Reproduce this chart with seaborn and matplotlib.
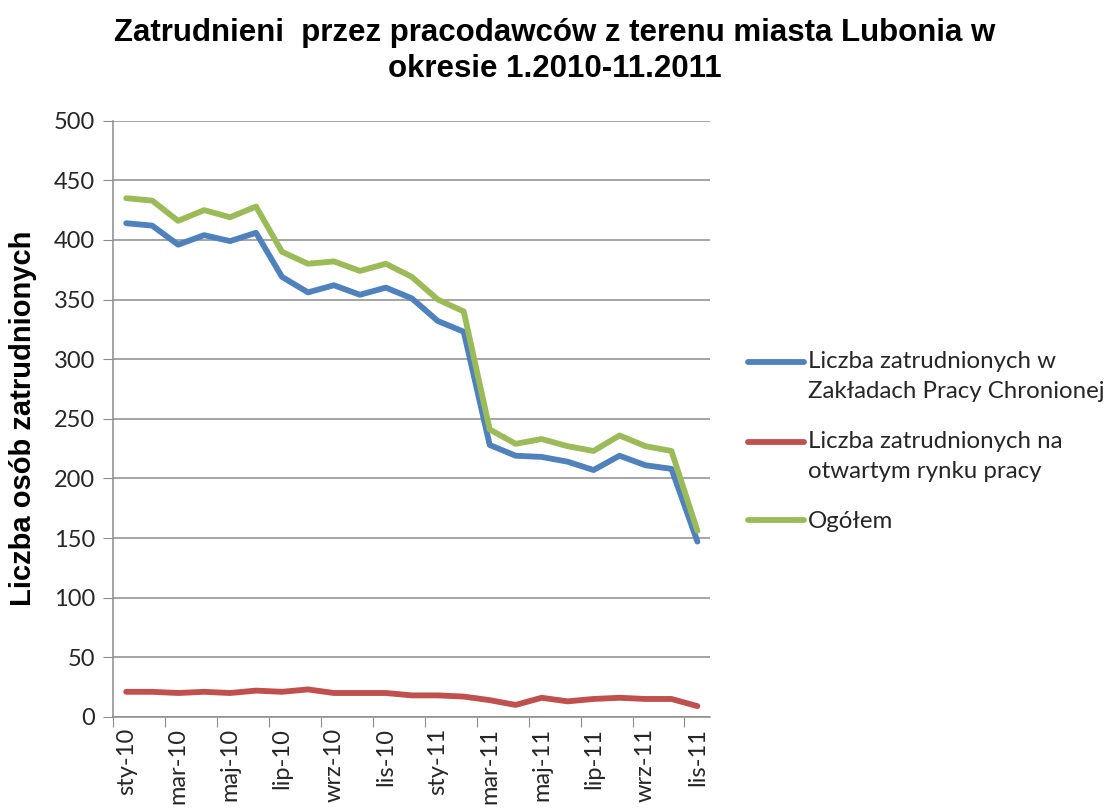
import numpy as np
import pandas as pd
import matplotlib
matplotlib.use("Agg")
import matplotlib.pyplot as plt
import seaborn as sns
from matplotlib.legend_handler import HandlerLine2D

# miesiace 1.2010 - 11.2011
months = ["sty", "lut", "mar", "kwi", "maj", "cze", "lip", "sie", "wrz", "paź", "lis", "gru"]
periods = [m + "-10" for m in months] + [m + "-11" for m in months[:11]]

chronione = [414, 412, 396, 404, 399, 406, 369, 356, 362, 354, 360, 351,
             332, 323, 228, 219, 218, 214, 207, 219, 211, 208, 147]
otwarty = [21, 21, 20, 21, 20, 22, 21, 23, 20, 20, 20, 18,
           18, 17, 14, 10, 16, 13, 15, 16, 15, 15, 9]
ogolem = [435, 433, 416, 425, 419, 428, 390, 380, 382, 374, 380, 369,
          350, 340, 241, 229, 233, 227, 223, 236, 227, 223, 156]

labels = ["Liczba zatrudnionych w\nZakładach Pracy Chronionej",
          "Liczba zatrudnionych na\notwartym rynku pracy",
          "Ogółem"]
colors = ["#4F81BD", "#C0504D", "#9BBB59"]

df = pd.DataFrame({"okres": periods, labels[0]: chronione,
                   labels[1]: otwarty, labels[2]: ogolem})
df["idx"] = np.arange(len(df))
long = df.melt(id_vars=["okres", "idx"], var_name="seria", value_name="liczba")

sns.set_style("white")
plt.rcParams["font.family"] = ["Lato", "DejaVu Sans"]

fig = plt.figure(figsize=(11.1, 8.1), dpi=100)
ax = fig.add_axes([0.102, 0.115, 0.538, 0.736])

sns.lineplot(data=long, x="idx", y="liczba", hue="seria", hue_order=labels,
             palette=colors, linewidth=4.2, ax=ax, legend=False)

grid_c = "#8C8C8C"
ax.set_xlim(-0.5, len(periods) - 0.5)
ax.set_ylim(0, 500)
ax.set_yticks(np.arange(0, 501, 50))
ax.yaxis.grid(True, color=grid_c, linewidth=1.1)
ax.set_axisbelow(True)

# ticks between categories, labels every second month
ax.set_xticks(np.arange(-0.5, len(periods) - 1, 2))
ax.set_xticklabels([])
ax.set_xticks(np.arange(0, len(periods), 2), minor=True)
ax.set_xticklabels(periods[::2], minor=True, rotation=90, fontsize=17, color="#262626")
ax.tick_params(axis="x", which="major", length=7, color=grid_c, direction="out", bottom=True)
ax.tick_params(axis="x", which="minor", length=0, pad=8)
ax.tick_params(axis="y", length=7, color=grid_c, direction="out", left=True,
               labelsize=17, labelcolor="#262626", pad=6)

for side in ["top", "right"]:
    ax.spines[side].set_visible(False)
for side in ["left", "bottom"]:
    ax.spines[side].set_color(grid_c)
    ax.spines[side].set_linewidth(1.1)

ax.set_xlabel("")
ax.set_ylabel("Liczba osób zatrudnionych", fontsize=21, fontweight="bold",
              family="Liberation Sans", color="black")
ax.yaxis.set_label_coords(-0.127, 0.5)

fig.suptitle("Zatrudnieni  przez pracodawców z terenu miasta Lubonia w\nokresie 1.2010-11.2011",
             x=0.5, y=0.978, fontsize=22.5, fontweight="bold", family="Liberation Sans",
             color="black", linespacing=1.25)


class FirstLineHandler(HandlerLine2D):
    # put the legend line next to the first line of a two-line label
    def __init__(self, shift, **kw):
        super().__init__(**kw)
        self.shift = shift

    def create_artists(self, legend, orig_handle, xdescent, ydescent, width, height,
                       fontsize, trans):
        return super().create_artists(legend, orig_handle, xdescent,
                                      ydescent - 2 * self.shift * fontsize,
                                      width, height, fontsize, trans)


handles = ax.get_lines()[:3]
shifts = [0.62, 0.62, 0.0]
leg = ax.legend(handles, labels, loc="upper left", bbox_to_anchor=(1.047, 0.63),
                frameon=False, fontsize=17.3, handlelength=2.33, handletextpad=0.17,
                labelspacing=1.2, borderaxespad=0,
                handler_map={h: FirstLineHandler(s) for h, s in zip(handles, shifts)})
for t in leg.get_texts():
    t.set_color("#262626")
    t.set_linespacing(1.55)

fig.savefig("out.png", dpi=100)
